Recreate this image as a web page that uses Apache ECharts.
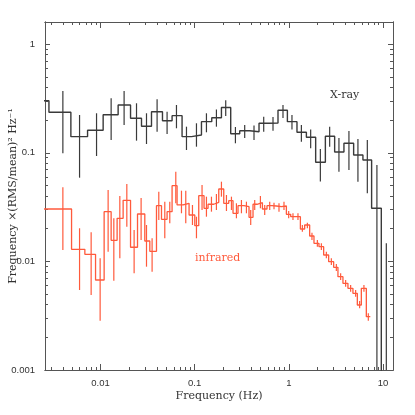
<!DOCTYPE html>
<html>
<head>
<meta charset="utf-8">
<script src="https://cdn.jsdelivr.net/npm/echarts@6/dist/echarts.min.js"></script>
<style>
  html, body { margin: 0; padding: 0; background: #fff; }
  #chart { width: 415px; height: 415px; }
</style>
</head>
<body>
<div id="chart"></div>
<script>
// X-ray power spectrum: bin edges (Hz), bin centres (Hz), power and error range
const xrayEdges = [0.0017, 0.00283, 0.00484, 0.00728, 0.01066, 0.01538, 0.02083, 0.02724, 0.03478, 0.04551,
  0.05756, 0.07348, 0.09247, 0.1181, 0.1519, 0.1925, 0.2416, 0.3012, 0.3845, 0.4828,
  0.6165, 0.7681, 0.9663, 1.222, 1.538, 1.930, 2.447, 3.071, 3.855, 4.887,
  6.134, 7.586, 9.616, 12.07]
const xrayFreq = [null, 0.003979, 0.005985, 0.009069, 0.01296, 0.0178, 0.02411, 0.03078, 0.03989, 0.05093,
  0.06408, 0.08185, 0.1045, 0.1334, 0.1703, 0.2138, 0.2711, 0.3401, 0.4271, 0.5414,
  0.6798, 0.8678, 1.081, 1.361, 1.708, 2.165, 2.718, 3.411, 4.356, 5.428,
  6.83, 8.636, 10.87]
const xrayPower = [0.3018, 0.236, 0.1407, 0.1612, 0.2243, 0.2755, 0.2078, 0.1754, 0.239, 0.1975,
  0.2196, 0.1407, 0.1458, 0.1934, 0.2104, 0.2613, 0.1496, 0.1595, 0.1564, 0.1869,
  0.1881, 0.2462, 0.1934, 0.1544, 0.1389, 0.08176, 0.1419, 0.1017, 0.1223, 0.09544,
  0.08585, 0.03083, 0.0006]
const xrayHigh = [null, 0.3708, 0.2229, 0.2311, 0.3176, 0.3708, 0.2856, 0.2311, 0.3109, 0.239,
  0.2755, 0.1739, 0.1869, 0.2311, 0.2504, 0.3043, 0.1728, 0.1803, 0.1784, 0.215,
  0.2137, 0.2755, 0.2229, 0.1803, 0.1639, 0.1084, 0.1739, 0.1369, 0.1587, 0.134,
  0.1312, 0.0772, 0.01468]
const xrayLow = [null, 0.09895, 0.05897, 0.09344, 0.1312, 0.1803, 0.1293, 0.1205, 0.1564, 0.149,
  0.1681, 0.1061, 0.1138, 0.1544, 0.1739, 0.2183, 0.1223, 0.1369, 0.1312, 0.1564,
  0.1598, 0.2091, 0.1639, 0.1265, 0.11, 0.05441, 0.1138, 0.06699, 0.06944, 0.05418,
  0.04238, 0.0005, 0.0005]

// infrared power spectrum
const irEdges = [0.0025, 0.004921, 0.006813, 0.00885, 0.01092, 0.01296, 0.015, 0.01738, 0.02083, 0.02471,
  0.02953, 0.03338, 0.0393, 0.04442, 0.05093, 0.05756, 0.06503, 0.07532, 0.08722, 0.1003,
  0.1105, 0.1258, 0.1388, 0.1595, 0.1803, 0.2037, 0.2301, 0.2556, 0.2888, 0.3344,
  0.378, 0.4169, 0.4596, 0.5244, 0.587, 0.6633, 0.7386, 0.8346, 0.943, 1.048,
  1.184, 1.328, 1.475, 1.667, 1.852, 2.093, 2.347, 2.652, 2.997, 3.329,
  3.762, 4.251, 4.803, 5.348, 5.898, 6.665, 7.347]
const irFreq = [0.003979, 0.005985, 0.007947, 0.009903, 0.01204, 0.01384, 0.01603, 0.01902, 0.02274, 0.02698,
  0.03078, 0.0353, 0.04158, 0.04815, 0.0544, 0.06302, 0.07242, 0.08045, 0.09476, 0.1045,
  0.1198, 0.1334, 0.1508, 0.1703, 0.1925, 0.2176, 0.2459, 0.2778, 0.314, 0.3548,
  0.394, 0.4345, 0.4995, 0.5549, 0.627, 0.6966, 0.787, 0.8892, 0.9975, 1.108,
  1.252, 1.394, 1.576, 1.763, 2.012, 2.219, 2.507, 2.833, 3.201, 3.556,
  4.018, 4.541, 5.131, 5.658, 6.286, 6.998]
const irPower = [0.03038, 0.01292, 0.01162, 0.006742, 0.02869, 0.01564, 0.02494, 0.03652, 0.01349, 0.02732,
  0.01541, 0.01239, 0.03258, 0.02441, 0.02869, 0.04979, 0.03307, 0.03428, 0.02675, 0.02132,
  0.04027, 0.03083, 0.03357, 0.03502, 0.04642, 0.03428, 0.03621, 0.02773, 0.03258, 0.03189,
  0.02547, 0.03357, 0.03471, 0.03038, 0.03258, 0.03237, 0.03189, 0.03237, 0.02714, 0.02579,
  0.02579, 0.01988, 0.02164, 0.01713, 0.01468, 0.01366, 0.01145, 0.009936, 0.008826, 0.007229,
  0.006286, 0.005653, 0.005085, 0.003967, 0.005653, 0.003096]
const irHigh = [0.04812, 0.02018, 0.01854, 0.01068, 0.04545, 0.02494, 0.04001, 0.0516, 0.01946, 0.03835,
  0.02164, 0.01632, 0.04383, 0.03546, 0.03546, 0.06699, 0.04477, 0.04477, 0.03307, 0.02579,
  0.05052, 0.03943, 0.03943, 0.04174, 0.05418, 0.04087, 0.03943, 0.03428, 0.03676, 0.03546,
  0.02973, 0.03676, 0.04001, 0.03307, 0.03546, 0.03471, 0.03428, 0.03546, 0.02912, 0.02773,
  0.02773, 0.02164, 0.02272, 0.01838, 0.01574, 0.01468, 0.01228, 0.01068, 0.009465, 0.007771,
  0.006742, 0.006064, 0.005452, 0.004318, 0.006064, 0.003327]
const irLow = [0.01274, 0.005452, 0.004905, 0.002844, 0.01228, 0.006643, 0.01068, 0.02087, 0.007771, 0.01574,
  0.008938, 0.00804, 0.02405, 0.01632, 0.02243, 0.03428, 0.02773, 0.02243, 0.02164, 0.01632,
  0.02973, 0.02579, 0.02869, 0.02973, 0.03943, 0.02912, 0.02973, 0.02494, 0.02773, 0.02773,
  0.02164, 0.02973, 0.03083, 0.02675, 0.02973, 0.03018, 0.02869, 0.02973, 0.02494, 0.02405,
  0.02405, 0.01877, 0.02018, 0.01574, 0.01366, 0.01274, 0.01068, 0.009267, 0.008159, 0.006742,
  0.005848, 0.00526, 0.004732, 0.0037, 0.00526, 0.002844]

// axes
const xMin = 0.00257, xMax = 12.8
const yMin = 0.001, yMax = 1.6
const xMajor = [0.01, 0.1, 1, 10]
const xMinor = [0.003, 0.004, 0.005, 0.006, 0.007, 0.008, 0.009,
  0.02, 0.03, 0.04, 0.05, 0.06, 0.07, 0.08, 0.09,
  0.2, 0.3, 0.4, 0.5, 0.6, 0.7, 0.8, 0.9,
  2, 3, 4, 5, 6, 7, 8, 9]
const yMajor = [0.001, 0.01, 0.1, 1]
const yMinor = [0.002, 0.003, 0.004, 0.005, 0.006, 0.007, 0.008, 0.009,
  0.02, 0.03, 0.04, 0.05, 0.06, 0.07, 0.08, 0.09,
  0.2, 0.3, 0.4, 0.5, 0.6, 0.7, 0.8, 0.9]

const XRAY_COLOR = '#3a3a3a'
const IR_COLOR = '#ff5a3c'
const AXIS_COLOR = '#555'

// histogram outline from the bin edges
function stepPoints(edges, power) {
  const pts = []
  power.forEach((p, i) => {
    pts.push([edges[i], p])
    pts.push([edges[i + 1], p])
  })
  return pts
}

function errorData(freq, low, high) {
  return freq.map((f, i) => f == null ? null : [f, low[i], high[i]]).filter(Boolean)
}

// vertical error bar, cut at the plot frame
function errorBar(color) {
  return function (params, api) {
    const top = api.coord([api.value(0), api.value(2)])
    const bottom = api.coord([api.value(0), api.value(1)])
    const cs = params.coordSys
    const y1 = Math.max(top[1], cs.y)
    const y2 = Math.min(bottom[1], cs.y + cs.height)
    if (top[0] < cs.x || top[0] > cs.x + cs.width) return null
    return {
      type: 'line',
      shape: { x1: top[0], y1: y1, x2: top[0], y2: y2 },
      style: { stroke: color, lineWidth: 1.2 },
    }
  }
}

function logAxis(position, min, max, ticks, len, withLabels) {
  return {
    type: 'log',
    logBase: 10,
    position: position,
    min: min,
    max: max,
    splitLine: { show: false },
    axisLine: { show: true, onZero: false, lineStyle: { color: AXIS_COLOR, width: 1 } },
    axisTick: { show: true, inside: true, length: len, customValues: ticks, lineStyle: { color: AXIS_COLOR, width: 1 } },
    minorTick: { show: false },
    axisLabel: {
      show: withLabels,
      customValues: ticks,
      fontFamily: 'Liberation Sans',
      fontSize: 9.5,
      color: '#333',
      formatter: (v) => String(+Number(v).toPrecision(3)),
    },
  }
}

const chart = echarts.init(document.getElementById('chart'))

const xBottom = logAxis('bottom', xMin, xMax, xMajor, 6, true)
xBottom.axisLabel.margin = 8
xBottom.name = 'Frequency (Hz)'
xBottom.nameLocation = 'middle'
xBottom.nameGap = 21
xBottom.nameMoveOverlap = false
xBottom.nameTextStyle = { fontFamily: 'DejaVu Serif', fontSize: 11, color: '#333' }

const yLeft = logAxis('left', yMin, yMax, yMajor, 5, true)
yLeft.axisLabel.margin = 10
yLeft.name = 'Frequency ×(RMS/mean)² Hz⁻¹'
yLeft.nameLocation = 'middle'
yLeft.nameGap = 26
yLeft.nameMoveOverlap = false
yLeft.nameTextStyle = { fontFamily: 'DejaVu Serif', fontSize: 11, color: '#333' }

chart.setOption({
  animation: false,
  backgroundColor: '#fff',
  grid: { left: 45, right: 22, top: 22, bottom: 45, outerBoundsMode: 'none', containLabel: false },
  xAxis: [
    xBottom,
    logAxis('bottom', xMin, xMax, xMinor, 3, false),
    logAxis('top', xMin, xMax, xMajor, 6, false),
    logAxis('top', xMin, xMax, xMinor, 3, false),
  ],
  yAxis: [
    yLeft,
    logAxis('left', yMin, yMax, yMinor, 3, false),
    logAxis('right', yMin, yMax, yMajor, 5, false),
    logAxis('right', yMin, yMax, yMinor, 3, false),
  ],
  graphic: [
    { type: 'text', left: 330, top: 90, style: { text: 'X-ray', font: '11px "DejaVu Serif"', fill: '#333' } },
    { type: 'text', left: 195, top: 253, style: { text: 'infrared', font: '11px "DejaVu Serif"', fill: IR_COLOR } },
  ],
  series: [
    {
      name: 'X-ray',
      type: 'line',
      data: stepPoints(xrayEdges, xrayPower),
      symbol: 'none',
      clip: true,
      lineStyle: { color: XRAY_COLOR, width: 1.4 },
      z: 3,
    },
    {
      name: 'X-ray err',
      type: 'custom',
      data: errorData(xrayFreq, xrayLow, xrayHigh),
      renderItem: errorBar(XRAY_COLOR),
      z: 3,
    },
    {
      name: 'infrared',
      type: 'line',
      data: stepPoints(irEdges, irPower),
      symbol: 'none',
      clip: true,
      lineStyle: { color: IR_COLOR, width: 1.3 },
      z: 2,
    },
    {
      name: 'infrared err',
      type: 'custom',
      data: errorData(irFreq, irLow, irHigh),
      renderItem: errorBar(IR_COLOR),
      z: 2,
    },
  ],
})
</script>
</body>
</html>
